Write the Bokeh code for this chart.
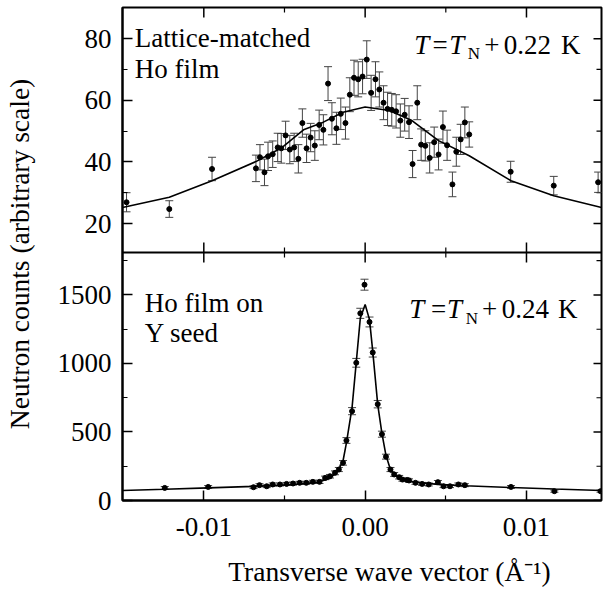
import numpy as np
from bokeh.plotting import figure
from bokeh.models import Range1d, LinearAxis, FixedTicker, CustomJSTickFormatter, Label, Span
from bokeh.embed import file_html
from bokeh.resources import INLINE

# ---------------- data: top panel (lattice-matched Ho film) ----------------
top_x = [-0.01479, -0.01214, -0.00949, -0.00677, -0.00652, -0.00624, -0.00602, -0.00573,
         -0.00542, -0.00520, -0.00493, -0.00467, -0.00440, -0.00414, -0.00389, -0.00363,
         -0.00338, -0.00312, -0.00285, -0.00259, -0.00230, -0.00206, -0.00178, -0.00151,
         -0.00122, -0.00095, -0.00069, -0.00043, -0.00016, 0.00010, 0.00037, 0.00064,
         0.00088, 0.00114, 0.00139, 0.00165, 0.00192, 0.00218, 0.00245, 0.00272,
         0.00294, 0.00323, 0.00347, 0.00373, 0.00400, 0.00428, 0.00455, 0.00482,
         0.00508, 0.00541, 0.00565, 0.00592, 0.00618, 0.00645, 0.00902, 0.01169, 0.01444]
top_y = [26.9, 24.7, 37.7, 37.9, 41.5, 36.6, 41.8, 42.5,
         44.7, 44.4, 48.6, 44.0, 44.7, 41.0, 52.6, 44.4,
         47.9, 45.3, 52.0, 50.4, 65.4, 54.0, 50.9, 55.6,
         52.6, 61.8, 67.3, 66.8, 67.7, 73.2, 62.4, 66.8,
         63.5, 59.2, 57.2, 56.9, 56.4, 53.4, 55.3, 52.9,
         39.3, 59.2, 45.6, 45.2, 41.3, 46.4, 42.4, 51.3,
         45.4, 32.7, 43.3, 47.3, 52.8, 48.9, 36.8, 32.3, 33.4]
top_err = [3.1, 2.7, 3.8, 4.3, 4.1, 4.3, 4.6, 4.3,
           4.6, 4.8, 4.6, 4.6, 4.6, 4.6, 4.6, 4.6,
           4.6, 4.8, 4.8, 4.9, 5.5, 5.2, 5.2, 5.1,
           5.2, 5.5, 5.7, 5.7, 5.6, 6.1, 5.7, 5.7,
           5.7, 5.5, 5.4, 5.3, 5.4, 5.4, 5.3, 5.3,
           4.4, 5.5, 5.1, 4.9, 4.9, 4.9, 5.0, 5.2,
           4.9, 4.0, 4.7, 4.9, 5.0, 4.1, 3.4, 3.0, 3.3]
top_fit_x = [-0.01504, -0.01214, -0.00949, -0.00677, -0.00520, -0.00382, -0.00259, -0.00137,
             0.0, 0.00150, 0.00290, 0.00455, 0.00645, 0.00904, 0.01169, 0.01465]
top_fit_y = [25.2, 28.5, 33.9, 40.1, 44.5, 50.4, 52.9, 56.1,
             57.8, 56.7, 53.4, 46.9, 42.0, 33.9, 29.0, 25.2]

# ---------------- data: bottom panel (Ho film on Y seed) ----------------
bot_x = [-0.01242, -0.00973, -0.00692, -0.00655, -0.00610, -0.00573, -0.00528, -0.00487,
         -0.00447, -0.00406, -0.00365, -0.00324, -0.00283, -0.00248, -0.00218, -0.00187,
         -0.00163, -0.00137, -0.00116, -0.00081, -0.00055, -0.00030, -0.00004, 0.00027,
         0.00047, 0.00078, 0.00104, 0.00129, 0.00157, 0.00180, 0.00211, 0.00231,
         0.00261, 0.00272, 0.00312, 0.00353, 0.00394, 0.00451, 0.00486, 0.00526,
         0.00578, 0.00618, 0.00904, 0.01173, 0.01459]
bot_y = [92, 99, 97, 112, 104, 117, 117, 121,
         124, 129, 129, 136, 136, 165, 177, 202,
         226, 275, 438, 652, 1005, 1366, 1575, 1303,
         1080, 703, 484, 320, 226, 190, 170, 153,
         150, 146, 129, 121, 117, 134, 104, 104,
         117, 112, 99, 68, 68]
bot_err = [10, 10, 10, 11, 10, 11, 11, 11,
           11, 11, 11, 12, 12, 13, 13, 14,
           15, 17, 21, 26, 32, 37, 40, 36,
           33, 27, 22, 18, 15, 14, 13, 12,
           12, 12, 11, 11, 11, 12, 10, 10,
           11, 11, 10, 8, 8]
bot_fit_x = [-0.01504, -0.01242, -0.00973, -0.00692, -0.00450, -0.00300, -0.00220, -0.00170,
             -0.00137, -0.00116, -0.00081, -0.00055, -0.00030, 0.0, 0.00027, 0.00047,
             0.00078, 0.00104, 0.00129, 0.00157, 0.00180, 0.00220, 0.00300, 0.00450,
             0.00620, 0.00904, 0.01173, 0.01465]
bot_fit_y = [73, 82, 92, 103, 116, 132, 160, 215,
             290, 420, 680, 1010, 1330, 1431, 1320, 1090,
             700, 490, 330, 225, 190, 160, 135, 118,
             108, 95, 84, 73]

# ---------------- ticks ----------------
x_ticks = [-0.01, 0.0, 0.01]
x_minor = [-0.005, 0.005]
top_ticks = [20, 40, 60, 80]
top_minor = [30, 50, 70]
bot_ticks = [0, 500, 1000, 1500]
bot_minor = [250, 750, 1250, 1750]

# ---------------- panel geometry (both panels share one frame) ----------------
X_RANGE = (-0.01504, 0.01465)
TOP_LIM = (10.6, 90.1)
BOT_LIM = (0.0, 1810.0)
BOT_FRAC = 248.0 / 493.0   # fraction of the frame height used by the lower panel

bot_end = BOT_LIM[0] + (BOT_LIM[1] - BOT_LIM[0]) / BOT_FRAC
top_start = TOP_LIM[0] - (TOP_LIM[1] - TOP_LIM[0]) * BOT_FRAC / (1 - BOT_FRAC)


def top_to_bot(v):
    return (v - top_start) / (TOP_LIM[1] - top_start) * bot_end


FONT = "Liberation Serif"
FS = "27px"
TITLE_FS = "27.5px"

p = figure(width=603, height=592, x_range=Range1d(*X_RANGE), y_range=Range1d(0, bot_end),
           output_backend="svg", toolbar_location=None,
           x_axis_location=None, y_axis_location=None,
           min_border_left=116, min_border_right=2, min_border_top=7, min_border_bottom=92,
           outline_line_color="black", outline_line_width=2,
           background_fill_color="white", border_fill_color="white")
p.extra_y_ranges = {"top": Range1d(top_start, TOP_LIM[1])}
p.grid.visible = False

yticker = FixedTicker(ticks=bot_ticks + [top_to_bot(v) for v in top_ticks],
                      minor_ticks=bot_minor + [top_to_bot(v) for v in top_minor])
yfmt = CustomJSTickFormatter(args=dict(split=BOT_LIM[1], lo=top_start, hi=TOP_LIM[1], full=bot_end),
                             code="""
if (tick > split) { return (lo + tick / full * (hi - lo)).toFixed(0); }
return tick.toFixed(0);
""")
xticker = FixedTicker(ticks=x_ticks, minor_ticks=x_minor)


def style(ax):
    ax.axis_line_color = "black"
    ax.axis_line_width = 2
    ax.major_tick_in = 10
    ax.major_tick_out = 0
    ax.minor_tick_in = 5
    ax.minor_tick_out = 0
    ax.major_tick_line_width = 1.5
    ax.minor_tick_line_width = 1.2
    ax.major_tick_line_color = "black"
    ax.minor_tick_line_color = "black"
    ax.major_label_text_font = FONT
    ax.major_label_text_color = "black"
    ax.major_label_text_font_size = FS
    ax.axis_label_text_font = FONT
    ax.axis_label_text_font_style = "normal"
    ax.axis_label_text_font_size = TITLE_FS
    ax.axis_label_text_color = "black"


left = LinearAxis(ticker=yticker, formatter=yfmt, axis_label="Neutron counts (arbitrary scale)")
style(left)
left.major_label_standoff = 11
left.axis_label_standoff = 20
p.add_layout(left, "left")

# two leading em spaces push the centred title right, as in the reference
below = LinearAxis(ticker=xticker, formatter=CustomJSTickFormatter(code="return tick.toFixed(2);"),
                   axis_label="\u2003\u2003Transverse wave vector (Å⁻¹)")
style(below)
below.major_label_standoff = 17
below.axis_label_standoff = 17
p.add_layout(below, "below")

# inward tick marks on the top and right edges and on the divider (frame clips the outer half)
TICK_C = "black"
p.scatter(x_ticks, [TOP_LIM[1]] * len(x_ticks), y_range_name="top", marker="dash", angle=np.pi / 2,
          size=20, line_color=TICK_C, line_width=1.5)
p.scatter(x_minor, [TOP_LIM[1]] * len(x_minor), y_range_name="top", marker="dash", angle=np.pi / 2,
          size=10, line_color=TICK_C, line_width=1.2)
p.scatter([X_RANGE[1]] * len(bot_ticks), bot_ticks, marker="dash", size=16, line_color=TICK_C, line_width=1.5)
p.scatter([X_RANGE[1]] * len(bot_minor), bot_minor, marker="dash", size=10, line_color=TICK_C, line_width=1.2)
p.scatter([X_RANGE[1]] * len(top_ticks), top_ticks, y_range_name="top", marker="dash", size=16,
          line_color=TICK_C, line_width=1.5)
p.scatter([X_RANGE[1]] * len(top_minor), top_minor, y_range_name="top", marker="dash", size=10,
          line_color=TICK_C, line_width=1.2)

p.add_layout(Span(location=BOT_LIM[1], dimension="width", line_color="black", line_width=2))
p.scatter(x_ticks, [BOT_LIM[1]] * len(x_ticks), marker="dash", angle=np.pi / 2, size=20,
          line_color=TICK_C, line_width=1.5)
p.scatter(x_minor, [BOT_LIM[1]] * len(x_minor), marker="dash", angle=np.pi / 2, size=10,
          line_color=TICK_C, line_width=1.2)

ERR_COLOR = "#444444"

# top panel
t_lo = [y - e for y, e in zip(top_y, top_err)]
t_hi = [y + e for y, e in zip(top_y, top_err)]
p.segment(x0=top_x, y0=t_lo, x1=top_x, y1=t_hi, y_range_name="top", line_color=ERR_COLOR, line_width=1)
p.scatter(top_x, t_lo, marker="dash", size=8, y_range_name="top", line_color=ERR_COLOR, line_width=1)
p.scatter(top_x, t_hi, marker="dash", size=8, y_range_name="top", line_color=ERR_COLOR, line_width=1)
p.line(top_fit_x, top_fit_y, y_range_name="top", line_color="black", line_width=1.6)
p.scatter(top_x, top_y, y_range_name="top", size=5, color="black")

# bottom panel
b_lo = [y - e for y, e in zip(bot_y, bot_err)]
b_hi = [y + e for y, e in zip(bot_y, bot_err)]
p.segment(x0=bot_x, y0=b_lo, x1=bot_x, y1=b_hi, line_color=ERR_COLOR, line_width=1)
p.scatter(bot_x, b_lo, marker="dash", size=8, line_color=ERR_COLOR, line_width=1)
p.scatter(bot_x, b_hi, marker="dash", size=8, line_color=ERR_COLOR, line_width=1)
p.line(bot_fit_x, bot_fit_y, line_color="black", line_width=1.6)
p.scatter(bot_x, bot_y, size=5, color="black")


# ---------------- annotations ----------------
def lab(x, y, text, style="normal", size=FS):
    p.add_layout(Label(x=x, y=y, text=text, text_font=FONT, text_font_size=size,
                       text_font_style=style, text_color="black",
                       text_align="left", text_baseline="alphabetic"))


lab(-0.01428, 3372, "Lattice-matched")
lab(-0.01428, 3146, "Ho film")
lab(0.00304, 3328, "T", "italic")
lab(0.00418, 3328, "=")
lab(0.00522, 3328, "T", "italic")
lab(0.00636, 3262, "N", size="17px")
lab(0.00738, 3328, "+")
lab(0.00859, 3328, "0.22")
lab(0.01214, 3328, "K")

lab(-0.01366, 1438, "Ho film on")
lab(-0.01366, 1219, "Y seed")
lab(0.00273, 1394, "T", "italic")
lab(0.00408, 1394, "=")
lab(0.00508, 1394, "T", "italic")
lab(0.00624, 1329, "N", size="17px")
lab(0.00725, 1394, "+")
lab(0.00847, 1394, "0.24")
lab(0.01196, 1394, "K")

open("out.html", "w").write(file_html(p, INLINE))
